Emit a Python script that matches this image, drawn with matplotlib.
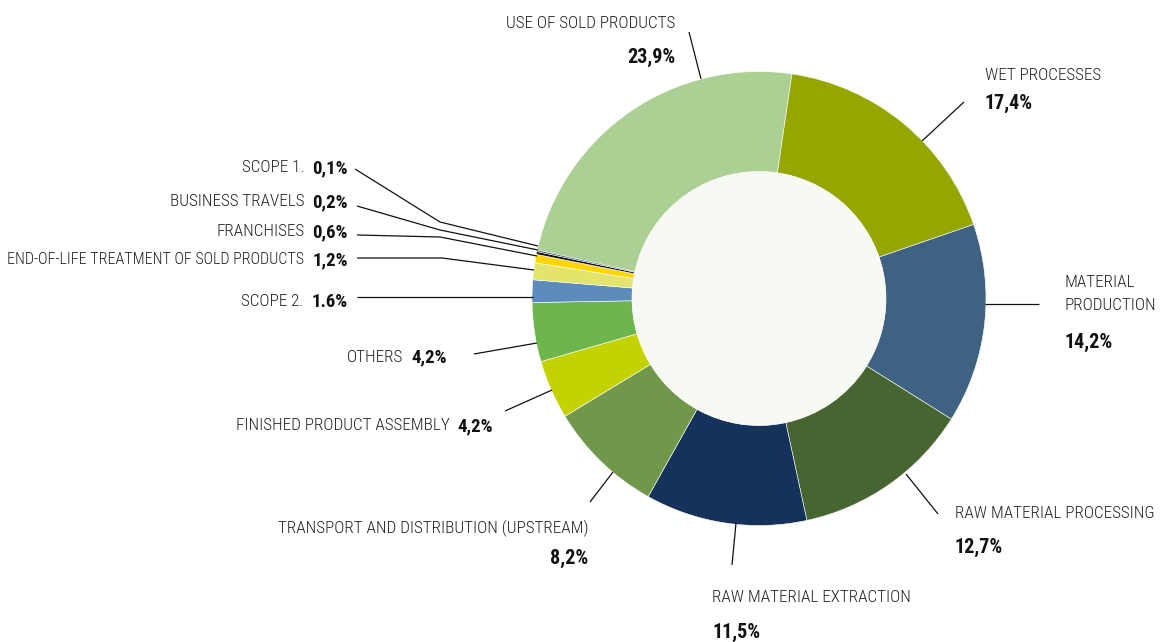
import matplotlib
matplotlib.use("Agg")
import matplotlib.pyplot as plt
from matplotlib import font_manager
from matplotlib.patches import Circle

# --- data -------------------------------------------------------------
categories = [
    "USE OF SOLD PRODUCTS",
    "WET PROCESSES",
    "MATERIAL\nPRODUCTION",
    "RAW MATERIAL PROCESSING",
    "RAW MATERIAL EXTRACTION",
    "TRANSPORT AND DISTRIBUTION (UPSTREAM)",
    "FINISHED PRODUCT ASSEMBLY",
    "OTHERS",
    "SCOPE 2.",
    "END-OF-LIFE TREATMENT OF SOLD PRODUCTS",
    "FRANCHISES",
    "BUSINESS TRAVELS",
    "SCOPE 1.",
]
shares = [23.9, 17.4, 14.2, 12.7, 11.5, 8.2, 4.2, 4.2, 1.6, 1.2, 0.6, 0.2, 0.1]
decimal_marks = [",", ",", ",", ",", ",", ",", ",", ",", ".", ",", ",", ",", ","]
colors = [
    "#acd094", "#96a600", "#3f6282", "#476531", "#15325a", "#70974a",
    "#c4d300", "#6db64d", "#5b8cbc", "#e2e46c", "#ffd600", "#111111", "#1d3b66",
]

# --- font ---------------------------------------------------------------
available = {f.name for f in font_manager.fontManager.ttflist}
family = "DejaVu Sans"
for cand in ["Liberation Sans Narrow", "Roboto Condensed", "DejaVu Sans Condensed",
             "Open Sans Condensed", "Liberation Sans"]:
    if cand in available:
        family = cand
        break
plt.rcParams["font.family"] = [family, "DejaVu Sans"]
FS_NAME = 12.3
FS_PCT = 14.5
FS_PCT_INLINE = 13.5
TXT = "#222222"
MARGIN = 6  # minimum distance of text from the left edge, px

# --- figure: axes in pixel units, y pointing down ----------------------
W, H = 1161, 642
fig = plt.figure(figsize=(W / 100, H / 100), dpi=100)
ax = fig.add_axes([0, 0, 1, 1])

cx, cy, r_out, r_in = 759, 298.5, 227, 127
# y axis is inverted, so data angles appear mirrored on screen
ax.pie(shares, colors=colors, startangle=-167.7, counterclock=True,
       center=(cx, cy), radius=r_out,
       wedgeprops=dict(width=r_out - r_in, edgecolor="white", linewidth=0.4))
ax.add_patch(Circle((cx, cy), r_in, facecolor="#f7f9f3", edgecolor="none", zorder=3))

ax.set_xlim(0, W)
ax.set_ylim(H, 0)
ax.set_aspect("equal")
ax.axis("off")


def pct_text(i):
    return f"{shares[i]:.1f}".replace(".", decimal_marks[i]) + "%"


# label layout: (mode, x, y_name, y_pct, ha)
#   "stack": name above percentage; "inline": name and percentage on one line
layout = {
    0: ("stack", 675, 23, 57, "right"),
    1: ("stack", 985, 75, 103, "left"),
    2: ("stack", 1064, 294, 342, "left"),
    3: ("stack", 955, 513, 547, "left"),
    4: ("stack", 712, 598, 632, "left"),
    5: ("stack", 588, 528, 558, "right"),
    6: ("inline", 493, 426, 426, "right"),
    7: ("inline", 447, 357, 357, "right"),
    8: ("inline", 348, 302, 302, "right"),
    9: ("inline", 348, 260, 260, "right"),
    10: ("inline", 348, 232, 232, "right"),
    11: ("inline", 348, 202, 202, "right"),
    12: ("inline", 348, 168, 168, "right"),
}

leaders = {
    0: [(689, 32), (701, 79)],
    1: [(964, 102), (922, 141)],
    2: [(1039, 304), (985, 304)],
    3: [(938, 514), (906, 474)],
    4: [(732, 565), (736, 523)],
    5: [(590, 502), (613, 472)],
    6: [(505, 411), (552, 390)],
    7: [(474, 354), (537, 343)],
    8: [(357, 297), (533, 297)],
    9: [(357, 258), (442, 258), (534, 270)],
    10: [(357, 235), (440, 237), (537, 256)],
    11: [(357, 206), (440, 230), (538, 250)],
    12: [(355, 169), (440, 222), (538, 246)],
}

renderer = fig.canvas.get_renderer()
to_data = ax.transData.inverted()
for i, name in enumerate(categories):
    mode, x, yn, yp, ha = layout[i]
    if mode == "stack":
        ax.text(x, yn, name, ha=ha, va="center", fontsize=FS_NAME, color=TXT,
                fontweight="light", linespacing=1.66)
        ax.text(x, yp, pct_text(i), ha=ha, va="center", fontsize=FS_PCT,
                fontweight="bold", color="#111111")
    else:
        t = ax.text(x, yp, pct_text(i), ha="right", va="center",
                    fontsize=FS_PCT_INLINE, fontweight="bold", color="#111111")
        left = to_data.transform(t.get_window_extent(renderer).p0)[0]
        right_edge = left - 8
        nt = ax.text(right_edge, yn, name, ha="right", va="center",
                     fontsize=FS_NAME, fontweight="light", color=TXT)
        # shrink a long name so it stays inside the figure
        nb = nt.get_window_extent(renderer)
        avail = right_edge - MARGIN
        if nb.width > avail:
            nt.set_fontsize(FS_NAME * avail / nb.width)
    xs, ys = zip(*leaders[i])
    ax.plot(xs, ys, color="#111111", lw=0.9, solid_capstyle="butt", zorder=4)

fig.savefig("out.png", dpi=100, facecolor="white")
